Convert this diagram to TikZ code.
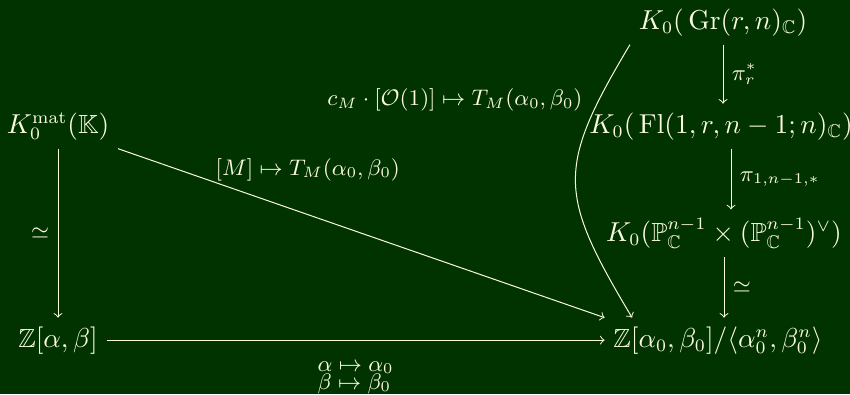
\documentclass[tikz,border=0pt]{standalone}
\usepackage{amsmath}
\usepackage{amssymb}
\usepackage{tikz}
\usepackage{color}
\definecolor{board}{RGB}{0,51,0}
\definecolor{chalk}{RGB}{250,250,222}

\begin{document}
\begin{tikzpicture}[x=0.4pt,y=-0.4pt,
  every node/.style={text=chalk,font=\fontsize{10.5}{12.6}\selectfont},
  obj/.style={anchor=base},
  lab/.style={font=\fontsize{9.2}{11}\selectfont},
  map/.style={->,draw=chalk}]
\useasboundingbox (0,0) rectangle (850,394);
\fill[board] (0,0) rectangle (850,394);
% left column
\node[obj] (kmat) at (58,133) {$K_0^{\mathrm{mat}}(\mathbb{K})$};
\node[obj] (zab) at (58,347) {$\mathbb{Z}[\alpha,\beta]$};
% right column
\node[obj] (gr) at (723,29) {$K_0(\,\mathrm{Gr}(r,n)_{\mathbb{C}})$};
\node[obj] (fl) at (721,133) {$K_0(\,\mathrm{Fl}(1,r,n-1;n)_{\mathbb{C}})$};
\node[obj] (pp) at (724,241) {$K_0(\mathbb{P}^{n-1}_{\mathbb{C}}\times(\mathbb{P}^{n-1}_{\mathbb{C}})^{\vee})$};
\node[obj] (zq) at (718,347) {$\mathbb{Z}[\alpha_0,\beta_0]/\langle\alpha_0^n,\beta_0^n\rangle$};

\draw[map] (kmat) -- node[left,lab] {$\simeq$} (zab);
\draw[map] (gr.south) -- node[right,lab] {$\pi_r^*$} (gr.south |- fl.north);
\draw[map] ([xshift=4pt]fl.south) -- node[right,lab] {$\pi_{1,n-1,*}$} ([xshift=4pt]fl.south |- pp.north);
\draw[map] (pp.south) -- node[right,lab] {$\simeq$} (pp.south |- zq.north);
\draw[map] (zab.east) -- (zab.east -| zq.west)
  node[midway,below=5pt,align=left,lab] {$\alpha\mapsto\alpha_0$\\[-3.8pt]$\beta\mapsto\beta_0$};
\draw[map] (kmat.south east) -- (zq.north west)
  node[pos=0.39,above=10pt,lab] {$[M]\mapsto T_M(\alpha_0,\beta_0)$};
\draw[map] (gr.south west) .. controls +(-74,124) and +(-74,-124) .. ([xshift=11pt]zq.north west)
  node[pos=0.17,left=3pt,lab] {$c_M\cdot[\mathcal{O}(1)]\mapsto T_M(\alpha_0,\beta_0)$};
\end{tikzpicture}
\end{document}
